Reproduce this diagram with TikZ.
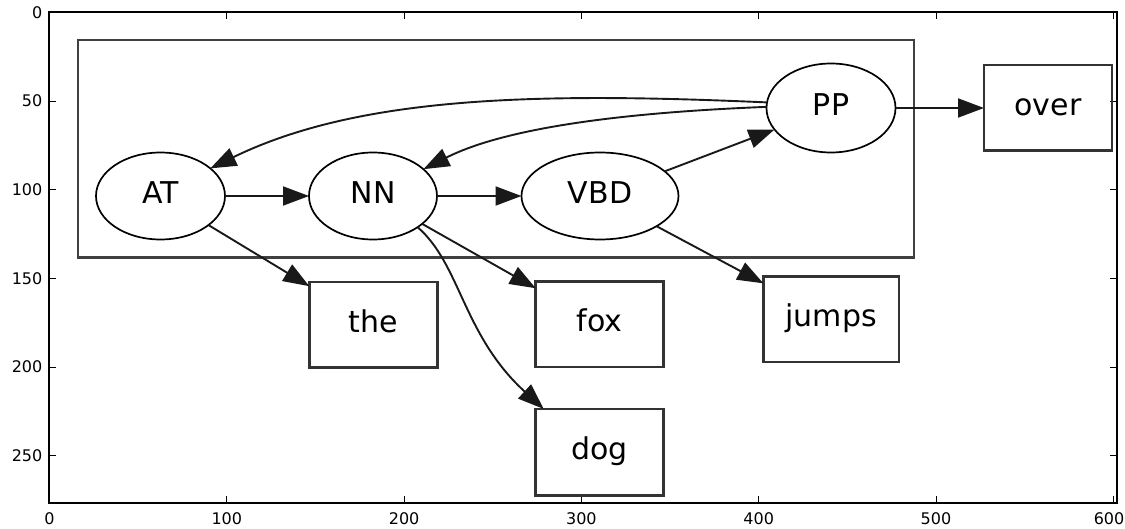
\documentclass[tikz,border=0pt]{standalone}
\usepackage{fontspec}
\setmainfont{DejaVu Sans}
\usetikzlibrary{arrows.meta,shapes.geometric,calc}
\begin{document}
\begin{tikzpicture}[x=1pt,y=-1pt,
  lab/.style={font=\fontsize{30}{36}\selectfont, text height=22pt, text depth=7pt, inner sep=0pt, outer sep=0pt},
  tag/.style={lab, ellipse, draw=black, line width=1.7pt, minimum width=129pt, minimum height=87pt},
  word/.style={lab, rectangle, draw=black!80, line width=2.5pt, minimum width=128pt, minimum height=85.5pt},
  edge/.style={draw=black!90, line width=1.9pt, -{Triangle[length=26pt,width=19pt]}},
  cluster/.style={draw=black!75, line width=2.8pt},
  frame/.style={draw=black, line width=1.3pt},
  tickmark/.style={line width=0.8pt},
  ticklab/.style={font=\fontsize{16}{19}\selectfont, inner sep=0pt}
]
\useasboundingbox (0,0) rectangle (1125,529);
% axes frame
\draw[frame] (49,12) rectangle (1117,503);
\foreach \v in {0,100,...,500} {
  \pgfmathsetmacro\X{49.5+1.773*\v}
  \draw[tickmark] (\X,503) -- (\X,496);
  \draw[tickmark] (\X,12) -- (\X,19);
  \node[ticklab] (xl\v) at (\X,519) {\v};
}
\draw[tickmark] (1113.3,503) -- (1113.3,496);
\draw[tickmark] (1113.3,12) -- (1113.3,19);
\node[ticklab, anchor=east] (xl600) at (1124.5,519) {600};
\foreach \v in {0,50,...,250} {
  \pgfmathsetmacro\Y{12.5+1.773*\v}
  \draw[tickmark] (49,\Y) -- (56,\Y);
  \draw[tickmark] (1117,\Y) -- (1110,\Y);
  \node[ticklab, anchor=east] (yl\v) at (42.5,\Y) {\v};
}
% cluster
\draw[cluster] (78,40) rectangle (914,257.5);
% tag nodes
\node[tag, minimum width=129pt] (AT) at (160.5,196) {AT};
\node[tag, minimum width=128pt] (NN) at (373,196) {NN};
\node[tag, minimum width=157pt] (VBD) at (600,196) {VBD};
\node[tag, minimum height=89pt] (PP) at (831,108) {PP};
% word nodes
\node[word] (over) at (1048,108) {over};
\node[word] (the) at (373.3,324.8) {the};
\node[word] (fox) at (599.7,324.5) {fox};
\node[word, minimum height=86.7pt] (dog) at (599.7,452.3) {dog};
\node[word, minimum width=135.6pt] (jumps) at (831.2,319.5) {jumps};
% edges
\draw[edge] (AT) -- (NN);
\draw[edge] (NN) -- (VBD);
\draw[edge] (VBD) -- (PP);
\draw[edge] (PP) -- (over);
\draw[edge] (AT) -- (the);
\draw[edge] (NN) -- (fox);
\draw[edge] (VBD) -- (jumps);
\draw[edge] (PP.175) .. controls +(-227,-10) and +(150,-73) .. (AT.29);
\draw[edge] (PP.179) .. controls +(-127,5) and +(87,-44) .. (NN.28);
\draw[edge] (NN.-35) .. controls +(43,37) and +(-81,-74) .. ([xshift=8pt]dog.north west);
\end{tikzpicture}
\end{document}
